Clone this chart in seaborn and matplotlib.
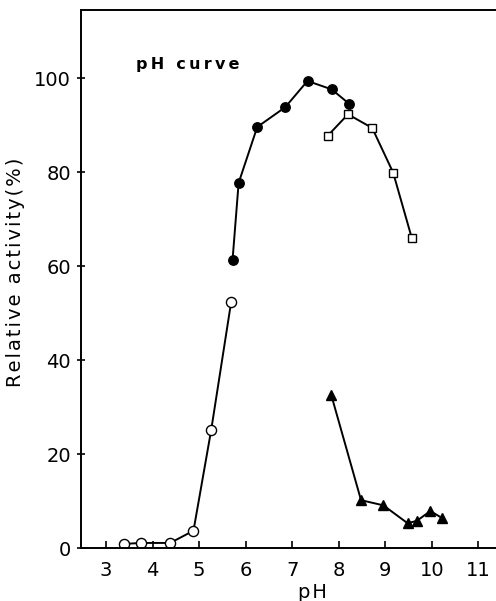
import matplotlib
matplotlib.use("Agg")
import matplotlib.pyplot as plt
import seaborn as sns

# filled circles
ph_filled = [5.72, 5.85, 6.25, 6.85, 7.33, 7.85, 8.23]
act_filled = [61.4, 77.7, 89.6, 93.8, 99.4, 97.6, 94.5]

# open squares
ph_square = [7.76, 8.20, 8.72, 9.17, 9.57]
act_square = [87.7, 92.3, 89.4, 79.9, 66.0]

# open circles
ph_open = [3.39, 3.76, 4.38, 4.88, 5.26, 5.69]
act_open = [0.9, 1.1, 1.1, 3.7, 25.1, 52.4]

# filled triangles
ph_tri = [7.84, 8.48, 8.96, 9.48, 9.68, 9.97, 10.22]
act_tri = [32.6, 10.2, 9.1, 5.3, 5.8, 7.9, 6.4]

x_ticks = [3, 4, 5, 6, 7, 8, 9, 10, 11]
y_ticks = [0, 20, 40, 60, 80, 100]


def spaced(s, gap='\u200a'):
    # imitate the wide letter spacing of the scanned figure
    return gap.join(s)


sns.set_style("ticks")
plt.rcParams['font.family'] = ['DejaVu Sans']
plt.rcParams['text.color'] = 'black'
plt.rcParams['axes.labelcolor'] = 'black'

fig = plt.figure(figsize=(4.96, 6.01), dpi=100)
ax = fig.add_axes([0.163, 0.088, 0.837, 0.8954])

line_kw = dict(color='black', linewidth=1.4, markeredgecolor='black',
               markeredgewidth=1.0, legend=False)
sns.lineplot(x=ph_filled, y=act_filled, marker='o', markersize=6.8,
             markerfacecolor='black', ax=ax, **line_kw)
sns.lineplot(x=ph_square, y=act_square, marker='s', markersize=6.3,
             markerfacecolor='white', ax=ax, **line_kw)
sns.lineplot(x=ph_open, y=act_open, marker='o', markersize=7.3,
             markerfacecolor='white', ax=ax, **line_kw)
sns.lineplot(x=ph_tri, y=act_tri, marker='^', markersize=6.5,
             markerfacecolor='black', ax=ax, **line_kw)

ax.set_xlim(2.46, 11.38)
ax.set_ylim(0, 114.5)
ax.set_xticks(x_ticks)
ax.set_yticks(y_ticks)
ax.tick_params(axis='x', direction='in', length=5, width=1.2, labelsize=14,
               pad=9, colors='black')
ax.tick_params(axis='y', direction='inout', length=6, width=1.2, labelsize=14,
               pad=4, colors='black')
for side in ['left', 'bottom', 'top']:
    ax.spines[side].set_linewidth(1.4)
    ax.spines[side].set_color('black')
ax.spines['right'].set_visible(False)

ax.set_xlabel(spaced('pH'), fontsize=14, va='center')
ax.xaxis.set_label_coords(0.559, -0.082)
ax.set_ylabel(spaced('Relative activity(%)'), fontsize=14, va='center')
ax.yaxis.set_label_coords(-0.158, 0.513)
ax.text(0.1325, 0.898, spaced('pH curve', '\u2009'), transform=ax.transAxes,
        fontsize=11.5, fontweight='bold', ha='left', va='center')

fig.savefig('out.png', dpi=100, facecolor='white')
